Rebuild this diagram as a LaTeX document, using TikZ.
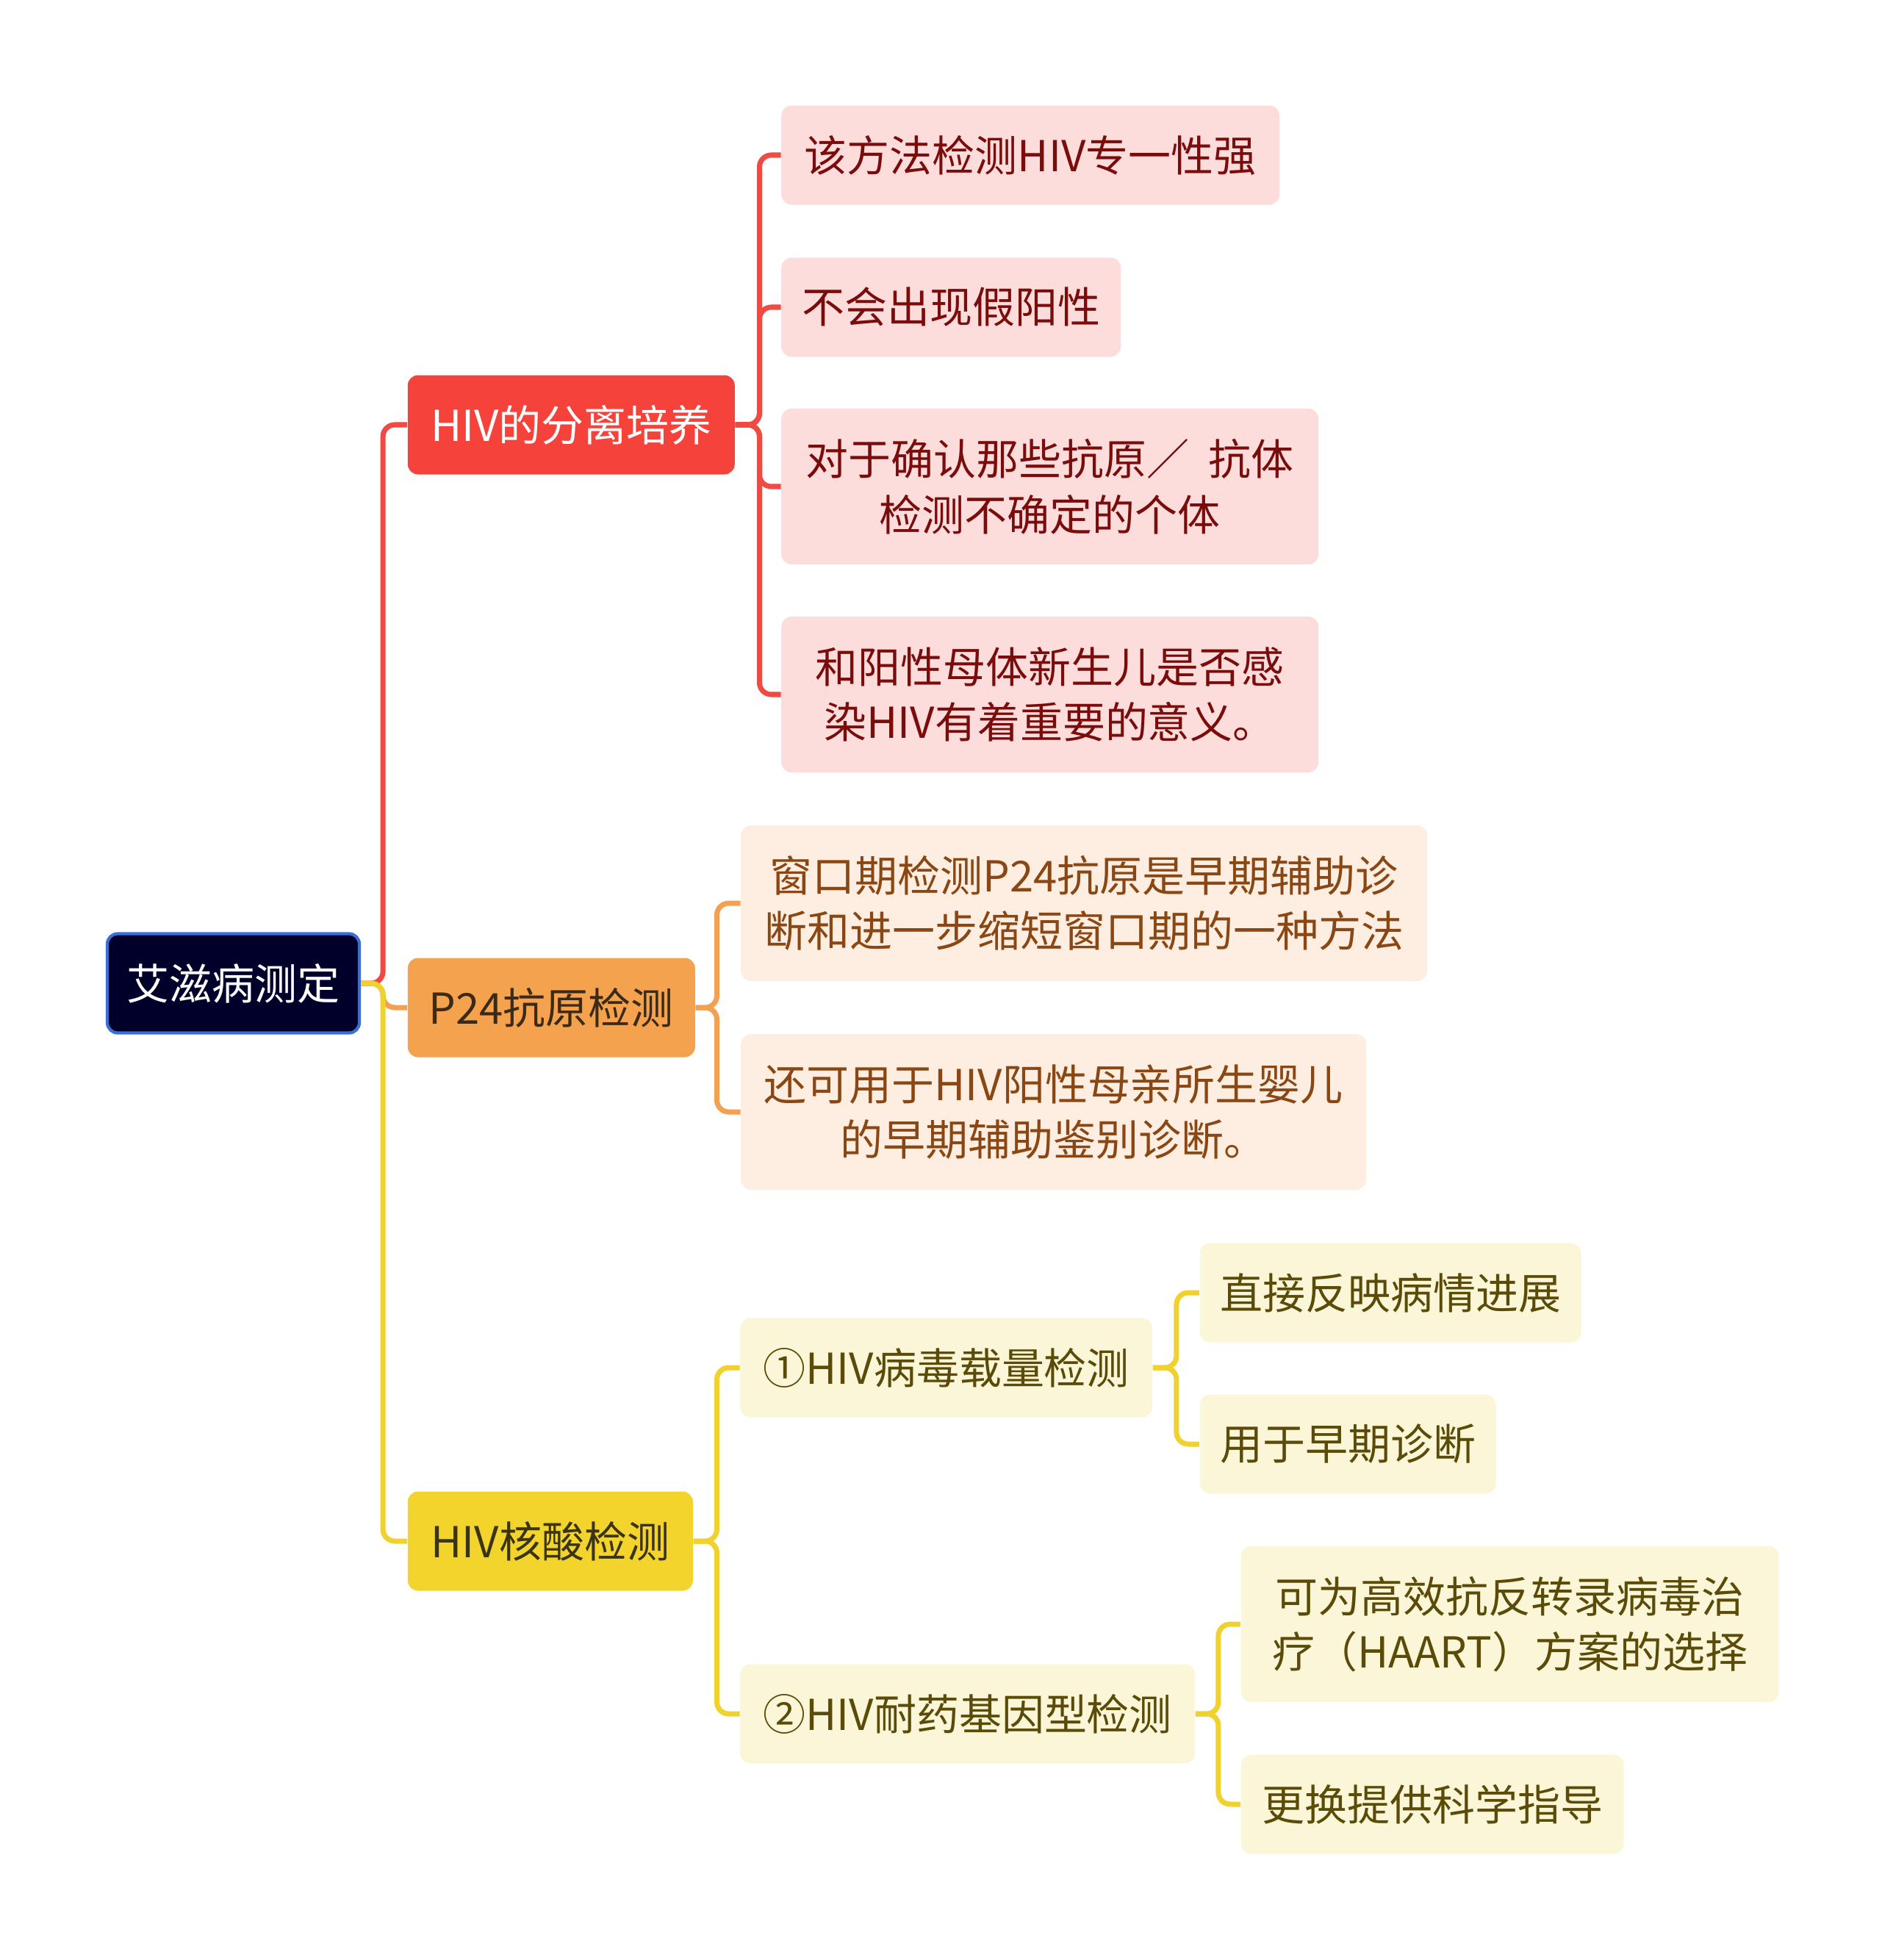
\documentclass[tikz,border=0pt]{standalone}
\usepackage{fontspec}
\setmainfont{Noto Sans CJK SC}
\usepackage{tikz}
\usetikzlibrary{positioning}
\definecolor{rootfill}{HTML}{00002A}
\definecolor{rootline}{HTML}{3A6FD8}
\definecolor{redmain}{HTML}{F5433B}
\definecolor{redline}{HTML}{EF4B42}
\definecolor{redleaf}{HTML}{FDDCDC}
\definecolor{redtext}{HTML}{7A0C0C}
\definecolor{orgmain}{HTML}{F4A24E}
\definecolor{orgline}{HTML}{F2A152}
\definecolor{orgleaf}{HTML}{FDEEE1}
\definecolor{orgtext}{HTML}{8A4713}
\definecolor{orgdark}{HTML}{3B2A16}
\definecolor{ylwmain}{HTML}{F2D42C}
\definecolor{ylwline}{HTML}{F0D12E}
\definecolor{ylwleaf}{HTML}{FCF6D8}
\definecolor{ylwtext}{HTML}{5A4C08}
\definecolor{ylwdark}{HTML}{3B3410}
\tikzstyle{topic} = [rectangle, rounded corners=0.14cm, minimum height=1.35cm, inner sep=0pt, align=center]
\tikzstyle{tall} = [minimum height=2.12cm]
\tikzstyle{link} = [line width=2pt, rounded corners=0.16cm]

\begin{document}
\begin{tikzpicture}[every node/.style={font=\fontsize{16.5}{21.5}\selectfont}]
  \useasboundingbox (0,0) rectangle (25.60,-26.67);

  \node[topic, fill=rootfill, draw=rootline, line width=1.2pt, text=white, minimum width=3.43cm] (root) at (3.175,-13.38) {艾滋病测定};

  \node[topic, fill=redmain, text=white, minimum width=4.45cm, right=0.63cm of root, yshift=7.60cm] (iso) {HIV的分离培养};
  \node[topic, fill=orgmain, text=orgdark, minimum width=3.91cm, right=0.63cm of root, yshift=-0.33cm] (p24) {P24抗原检测};
  \node[topic, fill=ylwmain, text=ylwdark, minimum width=3.88cm, right=0.63cm of root, yshift=-7.59cm] (nat) {HIV核酸检测};

  \node[topic, fill=redleaf, text=redtext, minimum width=6.78cm, right=0.62cm of iso, yshift=3.67cm] (iso1) {该方法检测HIV专一性强};
  \node[topic, fill=redleaf, text=redtext, minimum width=4.62cm, right=0.62cm of iso, yshift=1.60cm] (iso2) {不会出现假阳性};
  \node[topic, tall, fill=redleaf, text=redtext, minimum width=7.31cm, right=0.62cm of iso, yshift=-0.84cm] (iso3) {对于确认那些抗原／\hspace{0.45em}抗体\\检测不确定的个体};
  \node[topic, tall, fill=redleaf, text=redtext, minimum width=7.31cm, right=0.62cm of iso, yshift=-3.67cm] (iso4) {和阳性母体新生儿是否感\\染HIV有着重要的意义。};

  \node[topic, tall, fill=orgleaf, text=orgtext, minimum width=9.34cm, right=0.61cm of p24, yshift=1.42cm] (win) {窗口期检测P24抗原是早期辅助诊\\断和进一步缩短窗口期的一种方法};
  \node[topic, tall, fill=orgleaf, text=orgtext, minimum width=8.51cm, right=0.61cm of p24, yshift=-1.42cm] (baby) {还可用于HIV阳性母亲所生婴儿\\的早期辅助鉴别诊断。};

  \node[topic, fill=ylwleaf, text=ylwtext, minimum width=5.61cm, right=0.63cm of nat, yshift=2.36cm] (load) {①HIV病毒载量检测};
  \node[topic, fill=ylwleaf, text=ylwtext, minimum width=6.19cm, right=0.63cm of nat, yshift=-2.35cm] (gene) {②HIV耐药基因型检测};

  \node[topic, fill=ylwleaf, text=ylwtext, minimum width=5.19cm, right=0.63cm of load, yshift=1.02cm] (load1) {直接反映病情进展};
  \node[topic, fill=ylwleaf, text=ylwtext, minimum width=4.03cm, right=0.63cm of load, yshift=-1.04cm] (load2) {用于早期诊断};
  \node[topic, tall, fill=ylwleaf, text=ylwtext, minimum width=7.32cm, right=0.61cm of gene, yshift=1.22cm] (gene1) {可为高效抗反转录病毒治\\疗（HAART）方案的选择};
  \node[topic, fill=ylwleaf, text=ylwtext, minimum width=5.21cm, right=0.61cm of gene, yshift=-1.23cm] (gene2) {更换提供科学指导};

  \draw[link, redline] (root.east) -- ++(0.30,0) |- (iso.west);
  \draw[link, orgline] (root.east) -- ++(0.30,0) |- (p24.west);
  \draw[link, ylwline] (root.east) -- ++(0.30,0) |- (nat.west);

  \draw[link, redline] (iso.east) -- ++(0.33,0) |- (iso1.west);
  \draw[link, redline] (iso.east) -- ++(0.33,0) |- (iso2.west);
  \draw[link, redline] (iso.east) -- ++(0.33,0) |- (iso3.west);
  \draw[link, redline] (iso.east) -- ++(0.33,0) |- (iso4.west);

  \draw[link, orgline] (p24.east) -- ++(0.29,0) |- (win.west);
  \draw[link, orgline] (p24.east) -- ++(0.29,0) |- (baby.west);

  \draw[link, ylwline] (nat.east) -- ++(0.32,0) |- (load.west);
  \draw[link, ylwline] (nat.east) -- ++(0.32,0) |- (gene.west);
  \draw[link, ylwline] (load.east) -- ++(0.32,0) |- (load1.west);
  \draw[link, ylwline] (load.east) -- ++(0.32,0) |- (load2.west);
  \draw[link, ylwline] (gene.east) -- ++(0.31,0) |- (gene1.west);
  \draw[link, ylwline] (gene.east) -- ++(0.31,0) |- (gene2.west);
\end{tikzpicture}
\end{document}
